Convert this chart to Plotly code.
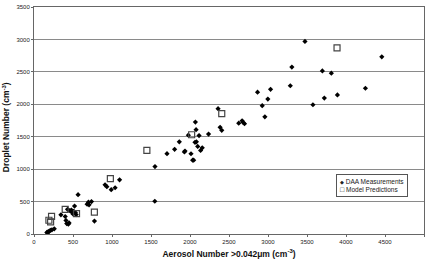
import plotly.graph_objects as go

# DAA measurements (aerosol number, droplet number)
daa_x = [165, 180, 195, 210, 230, 260, 175, 345, 400, 410, 420, 440, 450, 430, 460, 480,
         490, 500, 510, 520, 530, 540, 565, 681, 698, 706, 737, 775, 911, 934, 990, 1040,
         1097, 1549, 1551, 1705, 1803, 1863, 1928, 1936, 1979, 2013, 2034, 2047, 2064, 2069,
         2078, 2082, 2099, 2116, 2136, 2157, 2238, 2360, 2386, 2407, 2625, 2668, 2682, 2699,
         2866, 2926, 2960, 2998, 3033, 3286, 3306, 3474, 3576, 3697, 3722, 3812, 3890, 4249,
         4459]
daa_y = [25, 35, 45, 55, 65, 80, 15, 295, 270, 210, 160, 150, 170, 380, 360, 370,
         330, 310, 350, 430, 330, 300, 607, 460, 490, 450, 500, 200, 758, 730, 683, 713,
         835, 505, 1040, 1239, 1305, 1421, 1265, 1280, 1523, 1237, 1139, 1139, 1414, 1725,
         1609, 1421, 1351, 1518, 1288, 1328, 1540, 1932, 1644, 1598, 1709, 1746, 1720, 1700,
         2186, 1978, 1806, 2080, 2231, 2286, 2574, 2969, 1993, 2514, 2095, 2479, 2145, 2247,
         2732]

# Model predictions
model_x = [191, 213, 225, 400, 545, 774, 979, 1447, 2021, 2407, 3885]
model_y = [212, 187, 273, 379, 313, 338, 854, 1288, 1530, 1857, 2869]

series_names = ["DAA Measurements", "Model Predictions"]
x_ticks = [0, 500, 1000, 1500, 2000, 2500, 3000, 3500, 4000, 4500, 5000]
y_ticks = [0, 500, 1000, 1500, 2000, 2500, 3000, 3500]

fig = go.Figure()
fig.add_trace(go.Scatter(x=daa_x, y=daa_y, mode="markers", name=series_names[0],
                         marker=dict(symbol="diamond", size=4, color="black")))
fig.add_trace(go.Scatter(x=model_x, y=model_y, mode="markers", name=series_names[1],
                         marker=dict(symbol="square-open", size=6, color="#444444",
                                     line=dict(width=1.2))))

font = "Liberation Sans, Arial, sans-serif"
fig.update_layout(
    width=431, height=262,
    margin=dict(l=34, r=7, t=4, b=28),
    paper_bgcolor="white", plot_bgcolor="white",
    font=dict(family=font, size=6, color="#222222"),
    showlegend=False,
    xaxis=dict(range=[0, 5000], tickvals=x_ticks, showgrid=False, zeroline=False,
               showline=True, linecolor="#666666", linewidth=1, mirror=True,
               ticks="outside", ticklen=2, tickcolor="#666666",
               title=dict(text="<b>Aerosol Number >0.042μm (cm<sup>-3</sup>)</b>",
                          font=dict(size=8.5, color="#111111"), standoff=6)),
    yaxis=dict(range=[0, 3500], tickvals=y_ticks, showgrid=True, gridcolor="#8a8a8a",
               gridwidth=1, zeroline=False, showline=True, linecolor="#666666",
               linewidth=1, mirror=True, ticks="outside", ticklen=2, tickcolor="#666666"),
)

# y-axis title (slightly below the plot's centre, as in the reference)
fig.add_annotation(xref="paper", yref="paper", x=-0.072, y=0.47,
                   xanchor="center", yanchor="middle", showarrow=False, textangle=-90,
                   text="<b>Droplet Number (cm<sup>-3</sup>)</b>",
                   font=dict(family=font, size=8.5, color="#111111"))

# compact legend box
fig.add_annotation(xref="paper", yref="paper", x=0.775, y=0.265,
                   xanchor="left", yanchor="top", showarrow=False, align="left",
                   text="<span style='font-size:5px'>◆</span> " + series_names[0] +
                        "<br><span style='font-size:7px'>□</span> " + series_names[1],
                   font=dict(family=font, size=6.5, color="#222222"),
                   bordercolor="#555555", borderwidth=1, borderpad=3, bgcolor="white")

fig.write_html("out.html")
